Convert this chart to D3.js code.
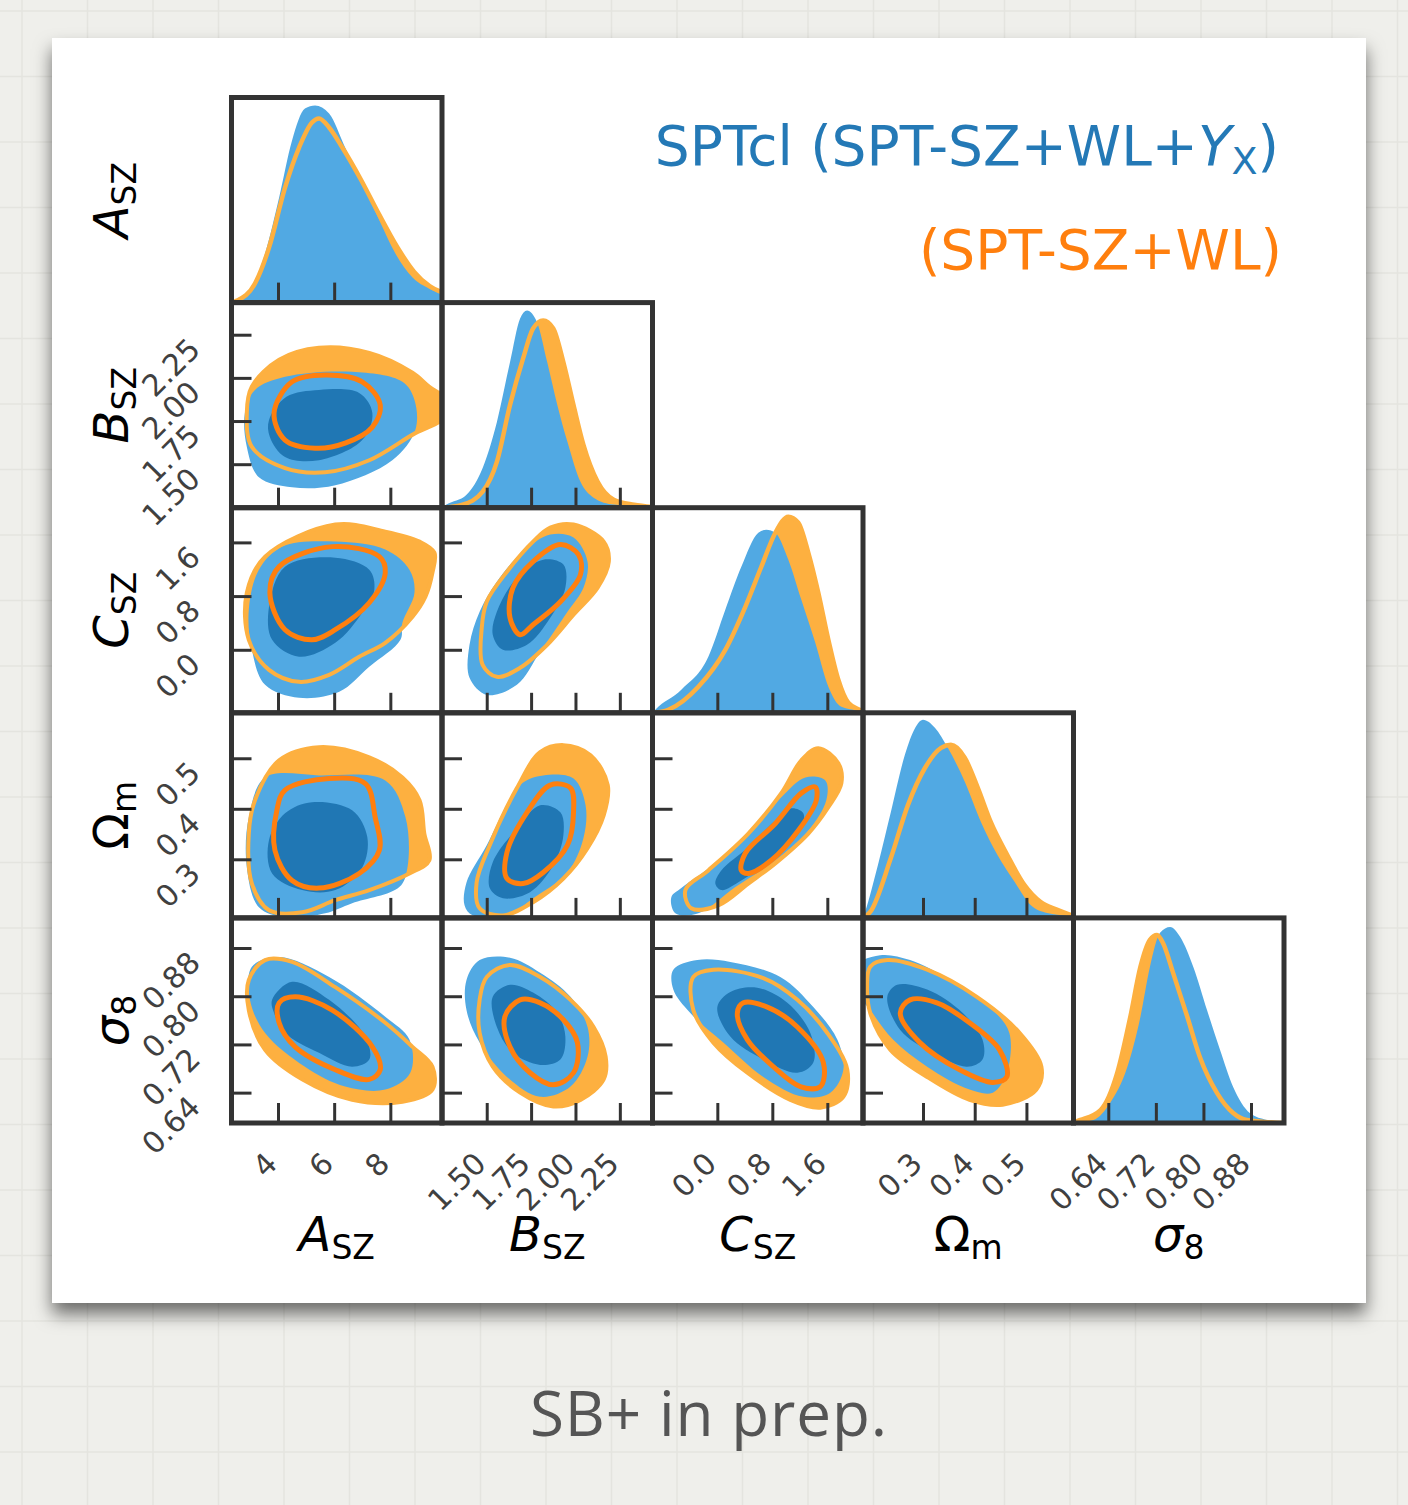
<!DOCTYPE html>
<html>
<head>
<meta charset="utf-8">
<script src="https://cdn.jsdelivr.net/npm/d3@7"></script>
<style>
  body { margin: 0; background: #efefeb; }
  svg { display: block; }
</style>
</head>
<body>
<script>
// ---------------------------------------------------------------
// Parameters of the corner plot, axis limits and tick labels
// ---------------------------------------------------------------
const params = ["A", "B", "C", "Om", "s8"];

const xLimits = { A: [2.344, 9.84], B: [1.248, 2.434], C: [-0.943, 2.119], Om: [0.184, 0.591], s8: [0.5815, 0.9355] };
const yLimits = { B: [1.248, 2.436], C: [-0.939, 2.117], Om: [0.184, 0.590], s8: [0.5896, 0.930] };

const tickValues = {
  A: [4, 6, 8],
  B: [1.5, 1.75, 2.0, 2.25],
  C: [0.0, 0.8, 1.6],
  Om: [0.3, 0.4, 0.5],
  s8: [0.64, 0.72, 0.80, 0.88]
};
const tickLabels = {
  A: ["4", "6", "8"],
  B: ["1.50", "1.75", "2.00", "2.25"],
  C: ["0.0", "0.8", "1.6"],
  Om: ["0.3", "0.4", "0.5"],
  s8: ["0.64", "0.72", "0.80", "0.88"]
};

const labelMain = { A: "A", B: "B", C: "C", Om: "Ω", s8: "σ" };
const labelSub = { A: "SZ", B: "SZ", C: "SZ", Om: "m", s8: "8" };
const labelItalic = { A: true, B: true, C: true, Om: false, s8: true };

const legendNames = ["SPTcl (SPT-SZ+WL+Y_X)", "(SPT-SZ+WL)"];

// ---------------------------------------------------------------
// 1D marginal posteriors: [parameter value, relative density]
// yx = SPT-SZ+WL+Y_X, wl = SPT-SZ+WL
// ---------------------------------------------------------------
const pdfA_yx = [[2.344,0],[2.6,0.01],[3.07,0.073],[3.54,0.239],[4.04,0.512],[4.5,0.79],[4.96,0.946],[5.32,0.961],[5.82,0.922],[6.39,0.756],[7.0,0.58],[7.61,0.4],[8.18,0.239],[8.79,0.122],[9.39,0.068],[9.84,0.045]];
const pdfA_wl = [[2.344,0],[2.54,0.01],[3.18,0.093],[3.68,0.268],[4.25,0.561],[4.75,0.756],[5.21,0.878],[5.46,0.898],[5.82,0.854],[6.29,0.756],[6.95,0.60],[7.6,0.43],[8.25,0.27],[8.85,0.15],[9.4,0.08],[9.84,0.05]];

const pdfB_yx = [[1.248,0],[1.273,0.015],[1.386,0.063],[1.477,0.194],[1.557,0.417],[1.631,0.709],[1.688,0.922],[1.727,0.961],[1.784,0.903],[1.841,0.709],[1.898,0.5],[1.955,0.32],[2.028,0.126],[2.102,0.049],[2.216,0.015],[2.434,0.003]];
const pdfB_wl = [[1.248,0],[1.364,0.015],[1.477,0.078],[1.557,0.223],[1.631,0.5],[1.705,0.728],[1.761,0.874],[1.818,0.913],[1.875,0.874],[1.932,0.709],[1.989,0.5],[2.045,0.306],[2.125,0.126],[2.216,0.039],[2.33,0.015],[2.434,0.004]];

const pdfC_yx = [[-0.943,0],[-0.902,0.015],[-0.524,0.112],[-0.131,0.273],[0.116,0.502],[0.349,0.712],[0.596,0.878],[0.713,0.893],[0.844,0.878],[1.033,0.746],[1.222,0.551],[1.425,0.341],[1.615,0.127],[1.804,0.029],[2.051,0.01],[2.119,0.005]];
const pdfC_wl = [[-0.943,0],[-0.713,0.015],[-0.276,0.127],[0.116,0.307],[0.407,0.517],[0.64,0.712],[0.844,0.878],[1.033,0.956],[1.178,0.927],[1.324,0.780],[1.469,0.585],[1.615,0.356],[1.76,0.161],[1.905,0.049],[2.095,0.01],[2.119,0.005]];

const pdfOm_yx = [[0.184,0],[0.188,0.029],[0.213,0.259],[0.238,0.517],[0.265,0.795],[0.285,0.927],[0.3,0.966],[0.323,0.927],[0.348,0.829],[0.381,0.663],[0.412,0.468],[0.444,0.307],[0.477,0.176],[0.508,0.063],[0.540,0.024],[0.579,0.01],[0.591,0.005]];
const pdfOm_wl = [[0.184,0],[0.198,0.029],[0.238,0.293],[0.271,0.551],[0.304,0.732],[0.335,0.829],[0.354,0.844],[0.381,0.780],[0.406,0.634],[0.431,0.468],[0.463,0.307],[0.496,0.161],[0.527,0.078],[0.560,0.039],[0.585,0.015],[0.591,0.01]];

const pdfS8_yx = [[0.5815,0],[0.615,0.015],[0.643,0.098],[0.672,0.273],[0.694,0.517],[0.710,0.761],[0.727,0.927],[0.744,0.956],[0.761,0.907],[0.783,0.761],[0.806,0.551],[0.828,0.356],[0.850,0.176],[0.878,0.049],[0.907,0.015],[0.9355,0.003]];
const pdfS8_wl = [[0.5815,0.004],[0.593,0.015],[0.627,0.063],[0.655,0.244],[0.677,0.517],[0.694,0.761],[0.710,0.893],[0.722,0.917],[0.732,0.878],[0.749,0.732],[0.773,0.517],[0.794,0.322],[0.823,0.146],[0.850,0.049],[0.873,0.015],[0.9355,0]];

// ---------------------------------------------------------------
// 2D credible regions (68% and 95%), closed outlines [x, y]
// ---------------------------------------------------------------
const contour_B_A = {
  wl95: [[2.89,1.80],[3.07,1.95],[4.04,2.105],[5.46,2.174],[7.25,2.145],[8.79,2.03],[9.39,1.948],[9.95,1.88],[10.0,1.78],[9.75,1.745],[8.89,1.68],[7.25,1.523],[5.68,1.453],[4.25,1.477],[3.07,1.60]],
  yx95: [[4.25,2.006],[6.64,2.035],[8.43,1.977],[8.86,1.872],[8.89,1.698],[8.07,1.523],[6.04,1.378],[4.5,1.366],[3.32,1.424],[2.89,1.599],[2.82,1.797],[3.18,1.93]],
  yx68: [[3.68,1.756],[4.3,1.89],[5.46,1.93],[6.89,1.913],[7.36,1.797],[7.0,1.64],[5.46,1.523],[4.25,1.541],[3.71,1.657]],
  wl68: [[3.86,1.797],[4.5,1.977],[5.68,2.017],[7.0,1.977],[7.64,1.843],[7.36,1.715],[6.39,1.622],[5.32,1.593],[4.25,1.64]]
};
const contour_C_A = {
  wl95: [[6.04,1.866],[7.82,1.761],[9.04,1.612],[9.57,1.448],[9.5,1.149],[9.25,0.791],[8.79,0.493],[7.82,0.104],[6.89,-0.104],[5.82,-0.373],[4.75,-0.478],[3.68,-0.299],[2.96,0.149],[2.89,0.851],[3.54,1.388]],
  yx95: [[4.14,1.537],[6.04,1.612],[7.82,1.493],[8.68,1.194],[8.86,0.851],[8.43,0.403],[8.36,0.149],[7.25,-0.254],[6.18,-0.627],[4.75,-0.716],[3.54,-0.522],[3.07,0],[2.96,0.597],[3.32,1.194]],
  yx68: [[4.25,1.239],[6.04,1.373],[7.25,1.194],[7.43,0.896],[7.0,0.552],[6.04,0.104],[4.75,-0.104],[3.79,0.149],[3.68,0.642]],
  wl68: [[4.04,1.239],[5.93,1.537],[7.61,1.388],[7.82,1.149],[7.25,0.701],[6.04,0.299],[5.21,0.149],[4.25,0.299],[3.71,0.851]]
};
const contour_Om_A = {
  wl95: [[5.46,0.522],[7.25,0.502],[8.43,0.462],[9.04,0.417],[9.21,0.351],[9.39,0.298],[8.68,0.272],[7.25,0.239],[6.04,0.219],[4.86,0.195],[3.68,0.199],[3.07,0.252],[2.96,0.351],[3.18,0.417],[4.04,0.496]],
  yx95: [[3.54,0.462],[5.46,0.466],[7.82,0.456],[8.54,0.383],[8.61,0.284],[8.32,0.245],[6.64,0.213],[5.68,0.193],[4.25,0.185],[3.32,0.205],[2.89,0.284],[2.96,0.383]],
  yx68: [[5.21,0.413],[6.64,0.397],[7.18,0.344],[7.0,0.284],[6.04,0.239],[4.86,0.239],[3.79,0.272],[3.68,0.338],[4.25,0.391]],
  wl68: [[4.25,0.437],[5.82,0.460],[7.11,0.450],[7.46,0.383],[7.61,0.318],[6.89,0.272],[5.46,0.243],[4.5,0.258],[3.89,0.318],[3.96,0.397]]
};
const contour_S8_A = {
  wl95: [[3.54,0.860],[4.5,0.857],[6.04,0.815],[7.82,0.756],[8.79,0.716],[9.5,0.683],[9.5,0.645],[8.43,0.625],[6.64,0.628],[4.86,0.662],[3.54,0.711],[2.96,0.777],[2.96,0.827]],
  yx95: [[3.07,0.849],[4.04,0.865],[5.82,0.832],[7.82,0.766],[8.68,0.728],[8.71,0.673],[7.82,0.645],[6.39,0.650],[4.96,0.683],[3.54,0.739],[3.0,0.794]],
  yx68: [[3.79,0.794],[4.5,0.824],[5.82,0.794],[7.11,0.733],[7.25,0.695],[6.64,0.683],[5.46,0.706],[4.25,0.739],[3.86,0.772]],
  wl68: [[4.04,0.789],[4.61,0.799],[5.93,0.777],[7.36,0.716],[7.64,0.678],[7.25,0.662],[6.04,0.678],[4.61,0.716],[4.04,0.756]]
};
const contour_C_B = {
  wl95: [[1.989,1.866],[2.159,1.612],[2.188,1.313],[2.125,0.925],[1.989,0.522],[1.841,0.075],[1.688,-0.269],[1.557,-0.403],[1.477,-0.224],[1.472,0.328],[1.5,0.716],[1.614,1.164],[1.761,1.612],[1.858,1.821]],
  yx95: [[1.403,-0.418],[1.403,0.075],[1.460,0.567],[1.557,1.015],[1.705,1.463],[1.858,1.716],[1.989,1.672],[2.068,1.313],[2.045,0.925],[1.955,0.567],[1.801,-0.03],[1.670,-0.522],[1.5,-0.672]],
  yx68: [[1.534,0.224],[1.557,0.567],[1.670,1.075],[1.818,1.343],[1.932,1.269],[1.943,0.925],[1.858,0.478],[1.727,0.075],[1.591,0]],
  wl68: [[1.631,0.478],[1.648,0.925],[1.761,1.313],[1.915,1.567],[2.017,1.418],[2.028,1.119],[1.915,0.716],[1.761,0.373],[1.688,0.224]]
};
const contour_Om_B = {
  wl95: [[1.932,0.526],[2.085,0.506],[2.182,0.447],[2.159,0.387],[2.068,0.322],[1.932,0.262],[1.761,0.215],[1.591,0.189],[1.460,0.203],[1.443,0.254],[1.517,0.328],[1.670,0.441],[1.801,0.512]],
  yx95: [[1.375,0.209],[1.386,0.254],[1.5,0.328],[1.688,0.447],[1.818,0.466],[1.989,0.460],[2.057,0.407],[2.045,0.342],[1.955,0.274],[1.761,0.223],[1.614,0.189],[1.420,0.189]],
  yx68: [[1.517,0.243],[1.534,0.294],[1.670,0.361],[1.801,0.407],[1.915,0.393],[1.932,0.348],[1.875,0.288],[1.744,0.235],[1.591,0.223]],
  wl68: [[1.614,0.262],[1.614,0.314],[1.727,0.393],[1.858,0.447],[1.972,0.441],[1.989,0.393],[1.955,0.328],[1.818,0.274],[1.705,0.252]]
};
const contour_Om_C = {
  wl95: [[1.469,0.520],[1.76,0.490],[1.804,0.450],[1.615,0.403],[1.324,0.351],[0.844,0.292],[0.451,0.252],[0.015,0.209],[-0.378,0.203],[-0.465,0.239],[-0.131,0.278],[0.451,0.351],[0.931,0.431],[1.222,0.496]],
  yx95: [[-0.669,0.225],[-0.524,0.243],[-0.029,0.292],[0.495,0.357],[0.931,0.423],[1.28,0.462],[1.571,0.456],[1.585,0.417],[1.324,0.357],[0.844,0.298],[0.262,0.245],[-0.276,0.193],[-0.611,0.193]],
  yx68: [[-0.029,0.252],[0.058,0.278],[0.451,0.324],[0.844,0.377],[1.076,0.401],[1.251,0.391],[1.207,0.357],[0.844,0.304],[0.349,0.258],[0.058,0.239]],
  wl68: [[0.349,0.278],[0.407,0.312],[0.844,0.371],[1.222,0.431],[1.425,0.443],[1.44,0.417],[1.178,0.357],[0.785,0.298],[0.451,0.272]]
};
const contour_S8_B = {
  wl95: [[1.5,0.832],[1.631,0.852],[1.801,0.832],[1.972,0.794],[2.102,0.749],[2.170,0.700],[2.159,0.662],[2.028,0.628],[1.875,0.617],[1.688,0.640],[1.534,0.683],[1.460,0.739],[1.460,0.794]],
  yx95: [[1.460,0.860],[1.631,0.864],[1.801,0.839],[1.972,0.799],[2.068,0.749],[2.068,0.700],[1.972,0.650],[1.801,0.633],[1.614,0.666],[1.460,0.723],[1.386,0.777],[1.386,0.827]],
  yx68: [[1.534,0.799],[1.631,0.819],[1.761,0.806],[1.898,0.772],[1.943,0.733],[1.915,0.695],[1.801,0.686],[1.648,0.706],[1.557,0.749]],
  wl68: [[1.602,0.766],[1.688,0.794],[1.801,0.789],[1.932,0.761],[2.011,0.723],[1.989,0.673],[1.875,0.653],[1.744,0.673],[1.631,0.716]]
};
const contour_S8_C = {
  wl95: [[-0.349,0.832],[-0.058,0.844],[0.669,0.830],[1.164,0.794],[1.6,0.739],[1.891,0.678],[1.833,0.633],[1.498,0.615],[1.062,0.628],[0.436,0.673],[-0.058,0.723],[-0.349,0.777]],
  yx95: [[-0.64,0.844],[-0.291,0.860],[0.189,0.857],[0.916,0.832],[1.396,0.782],[1.745,0.728],[1.833,0.678],[1.644,0.640],[1.251,0.633],[0.669,0.666],[0.087,0.723],[-0.393,0.772],[-0.64,0.811]],
  yx68: [[0,0.782],[0.189,0.807],[0.582,0.814],[1.018,0.789],[1.353,0.739],[1.396,0.690],[1.164,0.673],[0.669,0.695],[0.189,0.733]],
  wl68: [[0.291,0.772],[0.378,0.789],[0.727,0.782],[1.164,0.749],[1.542,0.690],[1.498,0.650],[1.207,0.650],[0.815,0.683],[0.436,0.728]]
};
const contour_S8_Om = {
  wl95: [[0.198,0.849],[0.231,0.860],[0.308,0.844],[0.404,0.799],[0.487,0.739],[0.529,0.683],[0.519,0.645],[0.454,0.620],[0.390,0.628],[0.308,0.666],[0.237,0.711],[0.198,0.772],[0.192,0.815]],
  yx95: [[0.169,0.85],[0.217,0.868],[0.275,0.860],[0.352,0.827],[0.435,0.777],[0.467,0.739],[0.462,0.673],[0.435,0.640],[0.390,0.645],[0.308,0.683],[0.242,0.728],[0.198,0.777],[0.169,0.81]],
  yx68: [[0.231,0.799],[0.25,0.819],[0.308,0.811],[0.377,0.772],[0.415,0.728],[0.415,0.695],[0.385,0.683],[0.319,0.706],[0.256,0.744]],
  wl68: [[0.256,0.772],[0.275,0.794],[0.327,0.789],[0.390,0.756],[0.448,0.711],[0.462,0.666],[0.435,0.657],[0.371,0.678],[0.294,0.723]]
};

// lookup tables built from the arrays above
const marginals = {
  A: { yx: pdfA_yx, wl: pdfA_wl },
  B: { yx: pdfB_yx, wl: pdfB_wl },
  C: { yx: pdfC_yx, wl: pdfC_wl },
  Om: { yx: pdfOm_yx, wl: pdfOm_wl },
  s8: { yx: pdfS8_yx, wl: pdfS8_wl }
};
const contours = {
  "1_0": contour_B_A, "2_0": contour_C_A, "3_0": contour_Om_A, "4_0": contour_S8_A,
  "2_1": contour_C_B, "3_1": contour_Om_B, "4_1": contour_S8_B,
  "3_2": contour_Om_C, "4_2": contour_S8_C,
  "4_3": contour_S8_Om
};

// ---------------------------------------------------------------
// Drawing
// ---------------------------------------------------------------
const W = 1408, H = 1505;
const colors = {
  yxLight: "#51a9e3", yxDark: "#2077b4",
  wlLight: "#fdb040", wlDark: "#ff7f0e",
  frame: "#333333", tickText: "#404040"
};
const FONT = "'DejaVu Sans', sans-serif";

const svg = d3.select("body").append("svg").attr("width", W).attr("height", H);
const defs = svg.append("defs");

// paper background with faint grid
const bg = svg.append("g");
bg.append("rect").attr("width", W).attr("height", H).attr("fill", "#efefeb");
bg.selectAll("line.v").data(d3.range(22, W, 65.5)).join("line")
  .attr("x1", d => d).attr("x2", d => d).attr("y1", 0).attr("y2", H)
  .attr("stroke", "#e4e4df").attr("stroke-width", 1.5);
bg.selectAll("line.h").data(d3.range(11, H, 65.5)).join("line")
  .attr("y1", d => d).attr("y2", d => d).attr("x1", 0).attr("x2", W)
  .attr("stroke", "#e4e4df").attr("stroke-width", 1.5);

// white card with soft drop shadow
const shadow = defs.append("filter").attr("id", "cardShadow")
  .attr("x", "-10%").attr("y", "-10%").attr("width", "120%").attr("height", "125%");
shadow.append("feDropShadow").attr("dx", 0).attr("dy", 11).attr("stdDeviation", 9)
  .attr("flood-color", "#000").attr("flood-opacity", 0.55);
svg.append("rect").attr("x", 52).attr("y", 38).attr("width", 1314).attr("height", 1265)
  .attr("fill", "#ffffff").attr("filter", "url(#cardShadow)");

// grid geometry of the corner plot
const grid = { left: 231.5, top: 97.5, cellW: 210.5, cellH: 205.1 };
const n = params.length;

function xScaleFor(col) {
  const x0 = grid.left + col * grid.cellW;
  return d3.scaleLinear().domain(xLimits[params[col]]).range([x0, x0 + grid.cellW]);
}
function yScaleFor(row) {
  const y0 = grid.top + row * grid.cellH;
  return d3.scaleLinear().domain(yLimits[params[row]]).range([y0 + grid.cellH, y0]);
}

const plot = svg.append("g").attr("font-family", FONT);

for (let row = 0; row < n; row++) {
  for (let col = 0; col <= row; col++) {
    const x0 = grid.left + col * grid.cellW;
    const y0 = grid.top + row * grid.cellH;
    const clipId = `clip-${row}-${col}`;
    defs.append("clipPath").attr("id", clipId).append("rect")
      .attr("x", x0).attr("y", y0).attr("width", grid.cellW).attr("height", grid.cellH);

    const panel = plot.append("g");
    const body = panel.append("g").attr("clip-path", `url(#${clipId})`);
    const sx = xScaleFor(col);

    if (row === col) {
      // 1D marginal
      const p = params[col];
      const sy = d3.scaleLinear().domain([0, 1]).range([y0 + grid.cellH, y0]);
      const area = d3.area().curve(d3.curveMonotoneX)
        .x(d => sx(d[0])).y0(sy(0)).y1(d => sy(d[1]));
      const line = d3.line().curve(d3.curveMonotoneX)
        .x(d => sx(d[0])).y(d => sy(d[1]));
      body.append("path").attr("d", area(marginals[p].wl)).attr("fill", colors.wlLight);
      body.append("path").attr("d", area(marginals[p].yx)).attr("fill", colors.yxLight);
      body.append("path").attr("d", line(marginals[p].wl)).attr("fill", "none")
        .attr("stroke", colors.wlLight).attr("stroke-width", 4.5);
    } else {
      // 2D credible regions
      const sy = yScaleFor(row);
      const c = contours[`${row}_${col}`];
      const outline = d3.line().curve(d3.curveCatmullRomClosed.alpha(0.5))
        .x(d => sx(d[0])).y(d => sy(d[1]));
      body.append("path").attr("d", outline(c.wl95)).attr("fill", colors.wlLight);
      body.append("path").attr("d", outline(c.yx95)).attr("fill", colors.yxLight);
      body.append("path").attr("d", outline(c.yx68)).attr("fill", colors.yxDark);
      body.append("path").attr("d", outline(c.wl95)).attr("fill", "none")
        .attr("stroke", colors.wlLight).attr("stroke-width", 4);
      body.append("path").attr("d", outline(c.wl68)).attr("fill", "none")
        .attr("stroke", colors.wlDark).attr("stroke-width", 5);

      // inward y ticks
      const gy = panel.append("g").attr("transform", `translate(${x0},0)`)
        .call(d3.axisLeft(sy).tickValues(tickValues[params[row]]).tickSize(-20).tickFormat(""));
      gy.select(".domain").remove();
      gy.selectAll("line").attr("stroke", colors.frame).attr("stroke-width", 3);
    }

    // inward x ticks
    const gx = panel.append("g").attr("transform", `translate(0,${y0 + grid.cellH})`)
      .call(d3.axisBottom(sx).tickValues(tickValues[params[col]]).tickSize(-20).tickFormat(""));
    gx.select(".domain").remove();
    gx.selectAll("line").attr("stroke", colors.frame).attr("stroke-width", 3);
  }
}

// panel frames on top
for (let row = 0; row < n; row++) {
  for (let col = 0; col <= row; col++) {
    plot.append("rect")
      .attr("x", grid.left + col * grid.cellW).attr("y", grid.top + row * grid.cellH)
      .attr("width", grid.cellW).attr("height", grid.cellH)
      .attr("fill", "none").attr("stroke", colors.frame).attr("stroke-width", 5);
  }
}

// rotated tick labels
const tickFont = 30;
const capLift = 0.516 * tickFont;
const bottomY = grid.top + n * grid.cellH;
for (let col = 0; col < n; col++) {
  const p = params[col];
  const sx = xScaleFor(col);
  tickValues[p].forEach((v, k) => {
    plot.append("text")
      .attr("transform", `translate(${sx(v) + 1},${bottomY + 27 + capLift}) rotate(-45)`)
      .attr("text-anchor", "end").attr("font-size", tickFont).attr("fill", colors.tickText)
      .text(tickLabels[p][k]);
  });
}
for (let row = 1; row < n; row++) {
  const p = params[row];
  const sy = yScaleFor(row);
  tickValues[p].forEach((v, k) => {
    plot.append("text")
      .attr("transform", `translate(202,${sy(v) + 1 + capLift}) rotate(-45)`)
      .attr("text-anchor", "end").attr("font-size", tickFont).attr("fill", colors.tickText)
      .text(tickLabels[p][k]);
  });
}

// axis titles: symbol with subscript
const titleFont = 48, subFont = 33;
function axisTitle(g, p) {
  const t = g.append("text").attr("text-anchor", "middle").attr("font-size", titleFont).attr("fill", "#000");
  t.append("tspan").attr("font-style", labelItalic[p] ? "italic" : "normal").text(labelMain[p]);
  t.append("tspan").attr("font-size", subFont).attr("dy", 8).text(labelSub[p]);
  return t;
}
for (let col = 0; col < n; col++) {
  const cx = grid.left + (col + 0.5) * grid.cellW;
  axisTitle(plot.append("g").attr("transform", `translate(${cx},1251)`), params[col]);
}
for (let row = 0; row < n; row++) {
  const cy = grid.top + (row + 0.5) * grid.cellH;
  axisTitle(plot.append("g").attr("transform", `translate(128,${cy}) rotate(-90)`), params[row]);
}

// legend text
const leg1 = plot.append("text").attr("x", 1279).attr("y", 165).attr("text-anchor", "end")
  .attr("font-size", 55).attr("fill", "#2479b6");
leg1.append("tspan").text("SPTcl (SPT-SZ+WL+");
leg1.append("tspan").attr("font-style", "italic").text("Y");
leg1.append("tspan").attr("font-size", 38).attr("dy", 9).text("X");
leg1.append("tspan").attr("dy", -9).text(")");

plot.append("text").attr("x", 1282).attr("y", 269).attr("text-anchor", "end")
  .attr("font-size", 55).attr("fill", colors.wlDark).text(legendNames[1]);

// note under the card
svg.append("text").attr("x", 530).attr("y", 1436)
  .attr("font-family", "'Open Sans', sans-serif").attr("font-size", 62)
  .attr("textLength", 357).attr("fill", "#555555").text("SB+ in prep.");
</script>
</body>
</html>
